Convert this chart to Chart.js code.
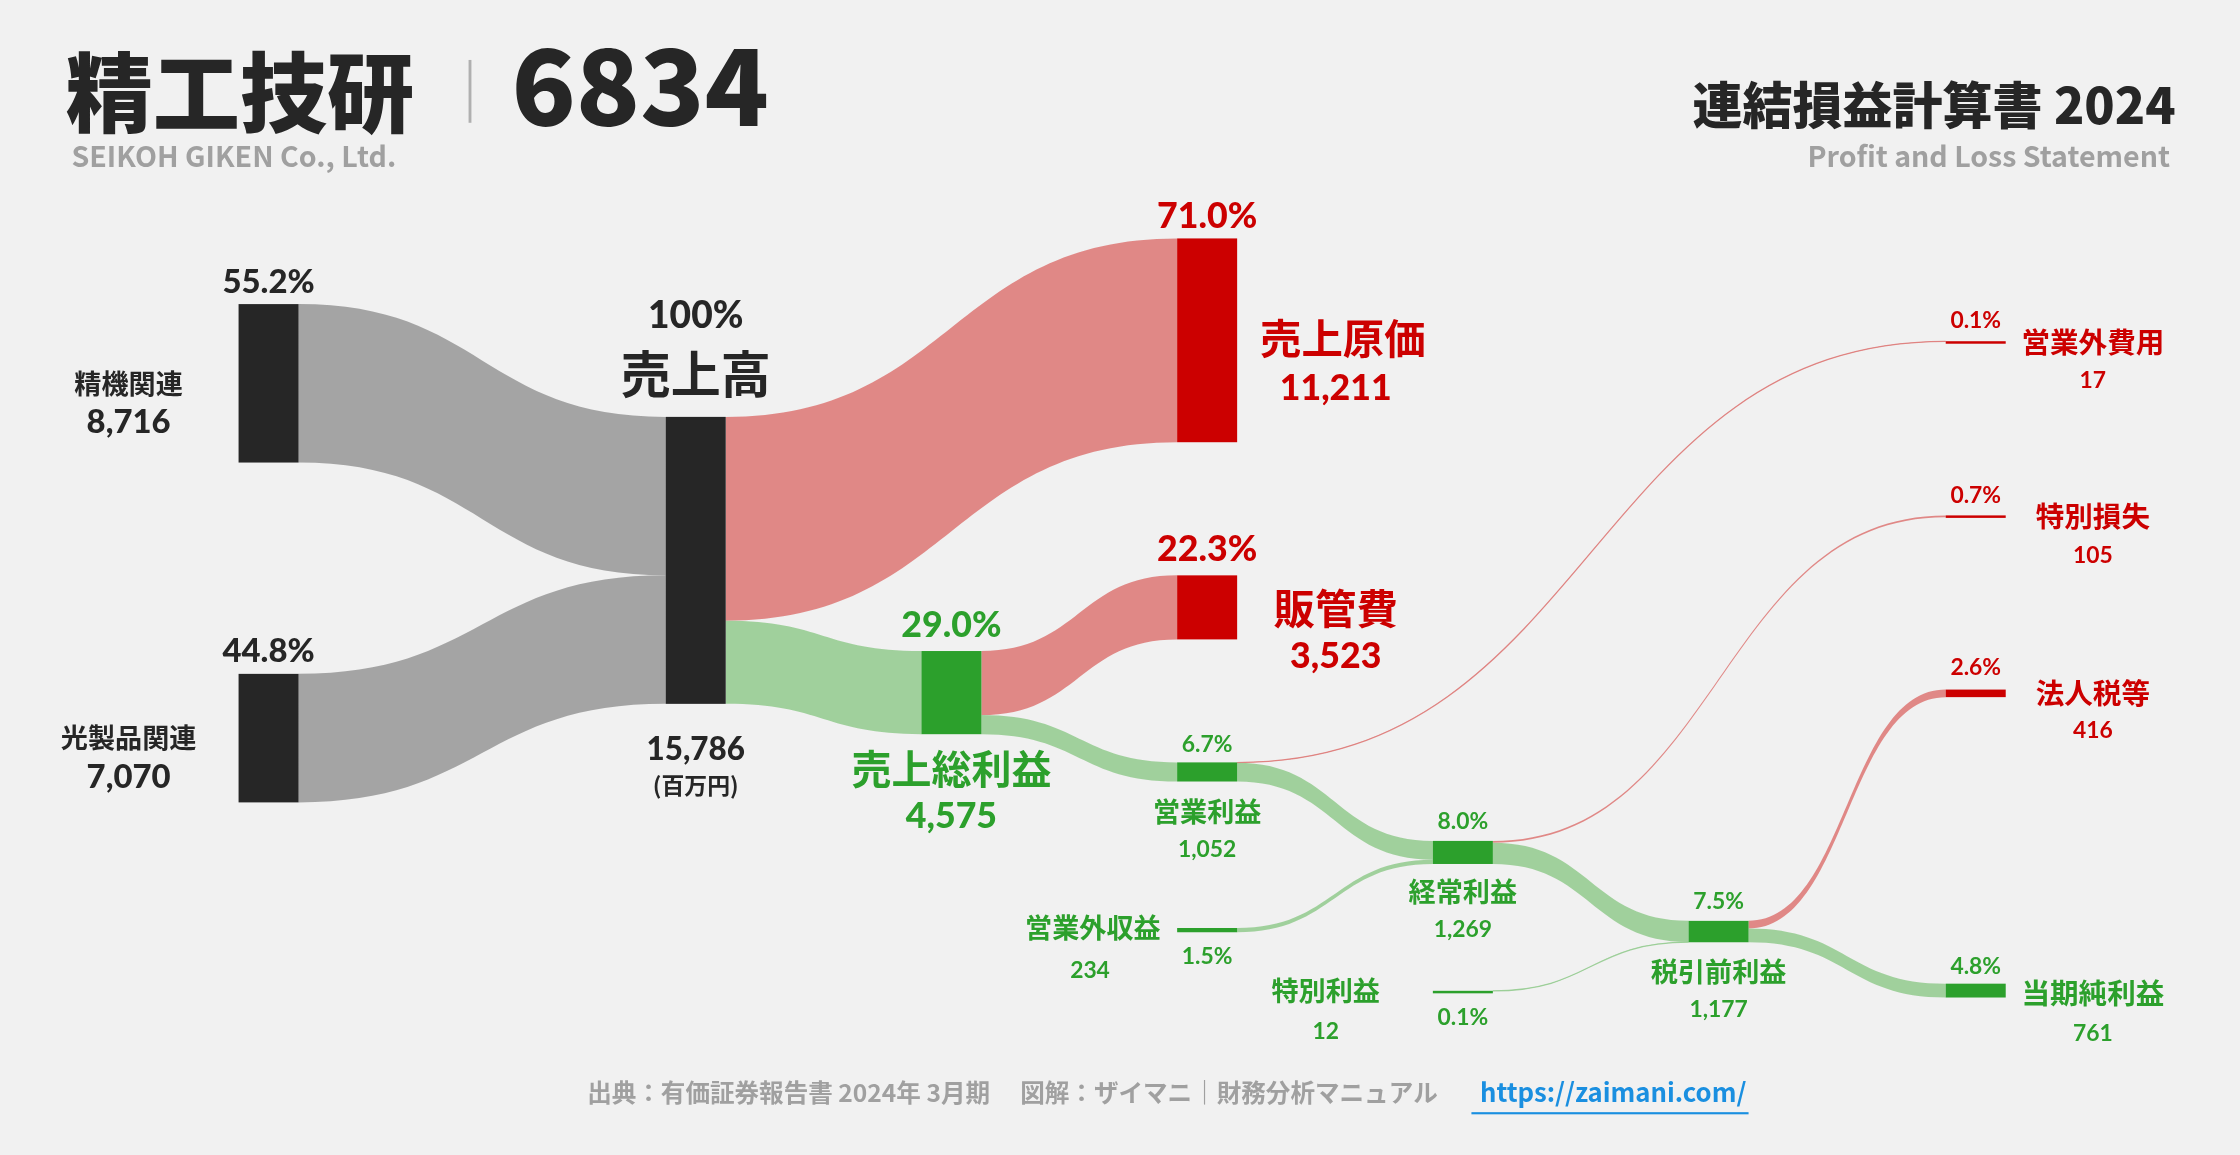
<!DOCTYPE html>
<html>
<head>
<meta charset="utf-8">
<script src="https://cdn.jsdelivr.net/npm/chart.js@4.4.1/dist/chart.umd.min.js"></script>
<style>
  html, body { margin: 0; padding: 0; background: #f1f1f1; }
  #wrap { width: 2240px; height: 1155px; }
</style>
</head>
<body>
<div id="wrap"><canvas id="sankey"></canvas></div>
<script>
// data (百万円)
const nodeNames = ['精機関連', '光製品関連', '売上高', '売上原価', '売上総利益', '販管費', '営業利益',
    '営業外費用', '営業外収益', '経常利益', '特別損失', '特別利益', '税引前利益', '法人税等', '当期純利益'];
const nodeValues = [8716, 7070, 15786, 11211, 4575, 3523, 1052, 17, 234, 1269, 105, 12, 1177, 416, 761];
const linkFrom = ['精機関連', '光製品関連', '売上高', '売上高', '売上総利益', '売上総利益', '営業利益', '営業利益',
    '営業外収益', '経常利益', '経常利益', '特別利益', '税引前利益', '税引前利益'];
const linkTo = ['売上高', '売上高', '売上原価', '売上総利益', '販管費', '営業利益', '営業外費用', '経常利益',
    '経常利益', '特別損失', '税引前利益', '税引前利益', '法人税等', '当期純利益'];
const linkValues = [8716, 7070, 11211, 4575, 3523, 1052, 17, 1035, 234, 105, 1164, 12, 416, 761];
const totalSales = 15786;

// layout in reference units (1568 x 809), node left edge and top
const layout = {
    '精機関連':   { x: 167, y: 213, c: 'k' }, '光製品関連': { x: 167, y: 472, c: 'k' },
    '売上高':     { x: 466, y: 292, c: 'k' }, '売上原価':   { x: 824, y: 167, c: 'r' },
    '売上総利益': { x: 645, y: 456, c: 'g' }, '販管費':     { x: 824, y: 403, c: 'r' },
    '営業利益':   { x: 824, y: 534, c: 'g' }, '営業外費用': { x: 1362, y: 239, c: 'r' },
    '営業外収益': { x: 824, y: 650, c: 'g' }, '経常利益':   { x: 1003, y: 589, c: 'g' },
    '特別損失':   { x: 1362, y: 361, c: 'r' }, '特別利益':   { x: 1003, y: 694, c: 'g' },
    '税引前利益': { x: 1182, y: 645, c: 'g' }, '法人税等':   { x: 1362, y: 483, c: 'r' },
    '当期純利益': { x: 1362, y: 689, c: 'g' }
};
const nodeW = 42;
const K = 201 / totalSales;
const nodeCol = { k: '#262626', r: '#cc0000', g: '#2ca02c' };
const linkCol = { k: 'rgba(150,150,150,0.85)', r: 'rgba(220,110,108,0.8)', g: 'rgba(140,200,135,0.8)' };

const CJK = "Lato, 'Noto Sans CJK JP', sans-serif";
const JP = "'Noto Sans CJK JP', Lato, sans-serif";

const sankeyPlugin = {
    id: 'sankey',
    beforeDraw(chart) {
        const c = chart.ctx;
        c.save(); c.fillStyle = '#f1f1f1'; c.fillRect(0, 0, chart.width, chart.height); c.restore();
    },
    afterDatasetsDraw(chart) {
        const c = chart.ctx, xs = chart.scales.x, ys = chart.scales.y;
        const X = v => xs.getPixelForValue(v), Y = v => ys.getPixelForValue(v);
        const s = chart.width / 1568;
        const outOff = {}, inOff = {};
        nodeNames.forEach(n => { outOff[n] = 0; inOff[n] = 0; });

        // links
        linkFrom.forEach((f, i) => {
            const t = linkTo[i], v = linkValues[i];
            const a = layout[f], b = layout[t];
            const sx = X(a.x + nodeW), tx = X(b.x);
            const sy0 = Y(a.y + outOff[f] * K), sy1 = Y(a.y + (outOff[f] + v) * K);
            const ty0 = Y(b.y + inOff[t] * K), ty1 = Y(b.y + (inOff[t] + v) * K);
            outOff[f] += v; inOff[t] += v;
            const m = (sx + tx) / 2;
            const col = linkCol[layout[t].c];
            c.beginPath();
            c.moveTo(sx, sy0);
            c.bezierCurveTo(m, sy0, m, ty0, tx, ty0);
            c.lineTo(tx, ty1);
            c.bezierCurveTo(m, ty1, m, sy1, sx, sy1);
            c.closePath();
            c.fillStyle = col; c.fill();
            if (v < 50) {
                c.beginPath();
                c.moveTo(sx, (sy0 + sy1) / 2);
                c.bezierCurveTo(m, (sy0 + sy1) / 2, m, (ty0 + ty1) / 2, tx, (ty0 + ty1) / 2);
                c.strokeStyle = col; c.lineWidth = 1.3; c.stroke();
            }
        });

        // nodes
        nodeNames.forEach((n, i) => {
            const L = layout[n];
            const y0 = Y(L.y), y1 = Y(L.y + nodeValues[i] * K);
            c.fillStyle = nodeCol[L.c];
            c.fillRect(X(L.x), y0, X(L.x + nodeW) - X(L.x), Math.max(y1 - y0, 2.5));
        });

        // text helper, reference units
        const T = (str, x, y, size, color, align, font, w) => {
            c.font = (w || 'bold') + ' ' + (size * s) + 'px ' + (font || CJK);
            c.fillStyle = color; c.textAlign = align || 'center'; c.textBaseline = 'alphabetic';
            c.fillText(str, X(x), Y(y));
        };
        const pct = n => {
            const p = nodeValues[nodeNames.indexOf(n)] / totalSales * 100;
            return (p >= 99.95 ? '100' : p.toFixed(1)) + '%';
        };
        const val = n => nodeValues[nodeNames.indexOf(n)].toLocaleString('en-US');
        const K1 = '#262626', R = '#cc0000', G = '#2ca02c';

        T(pct('精機関連'), 188, 205, 23, K1, 'center', CJK, '900'); T('精機関連', 90, 276, 19, K1, 'center', JP); T(val('精機関連'), 90, 303, 23, K1, 'center', CJK, '900');
        T(pct('光製品関連'), 188, 464, 23, K1, 'center', CJK, '900'); T('光製品関連', 90, 524, 19, K1, 'center', JP); T(val('光製品関連'), 90, 552, 23, K1, 'center', CJK, '900');
        T(pct('売上高'), 487, 230, 26, K1, 'center', CJK, '900'); T('売上高', 487, 275, 35, K1, 'center', JP);
        T(val('売上高'), 487, 532, 22, K1, 'center', CJK, '900'); T('(百万円)', 487, 556, 16, K1, 'center', JP);
        T(pct('売上原価'), 845, 160, 25, R, 'center', CJK, '900'); T('売上原価', 940, 248, 29, R, 'center', JP); T(val('売上原価'), 935, 280, 25, R, 'center', CJK, '900');
        T(pct('販管費'), 845, 393, 25, R, 'center', CJK, '900'); T('販管費', 935, 437, 29, R, 'center', JP); T(val('販管費'), 935, 468, 25, R, 'center', CJK, '900');
        T(pct('売上総利益'), 666, 446, 25, G, 'center', CJK, '900'); T('売上総利益', 666, 549, 28, G, 'center', JP); T(val('売上総利益'), 666, 580, 25, G, 'center', CJK, '900');
        T(pct('営業利益'), 845, 527, 16, G); T('営業利益', 845, 576, 19, G, 'center', JP); T(val('営業利益'), 845, 600, 16, G);
        T(pct('営業外費用'), 1383, 230, 16, R); T('営業外費用', 1465, 247, 20, R, 'center', JP); T(val('営業外費用'), 1465, 272, 16, R);
        T(pct('特別損失'), 1383, 352, 16, R); T('特別損失', 1465, 369, 20, R, 'center', JP); T(val('特別損失'), 1465, 394, 16, R);
        T(pct('法人税等'), 1383, 473, 16, R); T('法人税等', 1465, 493, 20, R, 'center', JP); T(val('法人税等'), 1465, 517, 16, R);
        T(pct('経常利益'), 1024, 581, 16, G); T('経常利益', 1024, 632, 19, G, 'center', JP); T(val('経常利益'), 1024, 656, 16, G);
        T(pct('税引前利益'), 1203, 637, 16, G); T('税引前利益', 1203, 688, 19, G, 'center', JP); T(val('税引前利益'), 1203, 712, 16, G);
        T(pct('当期純利益'), 1383, 682, 16, G); T('当期純利益', 1465, 703, 20, G, 'center', JP); T(val('当期純利益'), 1465, 729, 16, G);
        T('営業外収益', 765, 657, 19, G, 'center', JP); T(val('営業外収益'), 763, 685, 16, G); T(pct('営業外収益'), 845, 675, 16, G);
        T('特別利益', 928, 701, 19, G, 'center', JP); T(val('特別利益'), 928, 728, 16, G); T(pct('特別利益'), 1024, 718, 16, G);

        // header
        T('精工技研', 46, 88, 61, K1, 'left', JP, '900');
        c.fillStyle = '#b0b0b0'; c.fillRect(X(328), Y(42), 2 * s, Y(86) - Y(42));
        T('6834', 358, 88, 74, K1, 'left', JP, '900');
        T('SEIKOH GIKEN Co., Ltd.', 50, 117, 20, '#a0a0a0', 'left', JP);
        T('連結損益計算書 2024', 1523, 87, 35, K1, 'right', JP, '900');
        T('Profit and Loss Statement', 1519, 117, 20, '#a0a0a0', 'right', JP);

        // footer
        T('出典：有価証券報告書 2024年 3月期　 図解：ザイマニ｜財務分析マニュアル', 411, 772, 17.2, '#a0a0a0', 'left', JP);
        T('https://zaimani.com/', 1036, 772, 18, '#1a8fe0', 'left', JP);
        c.fillStyle = '#1a8fe0'; c.fillRect(X(1030), Y(779), X(1224) - X(1030), 1.5 * s);
    }
};

new Chart(document.getElementById('sankey'), {
    type: 'scatter',
    data: { datasets: [{ data: [], showLine: false }] },
    options: {
        responsive: true,
        maintainAspectRatio: false,
        animation: false,
        layout: { padding: 0 },
        plugins: { legend: { display: false }, tooltip: { enabled: false } },
        scales: {
            x: { type: 'linear', min: 0, max: 1568, display: false },
            y: { type: 'linear', min: 0, max: 809, reverse: true, display: false }
        }
    },
    plugins: [sankeyPlugin]
});
</script>
</body>
</html>
